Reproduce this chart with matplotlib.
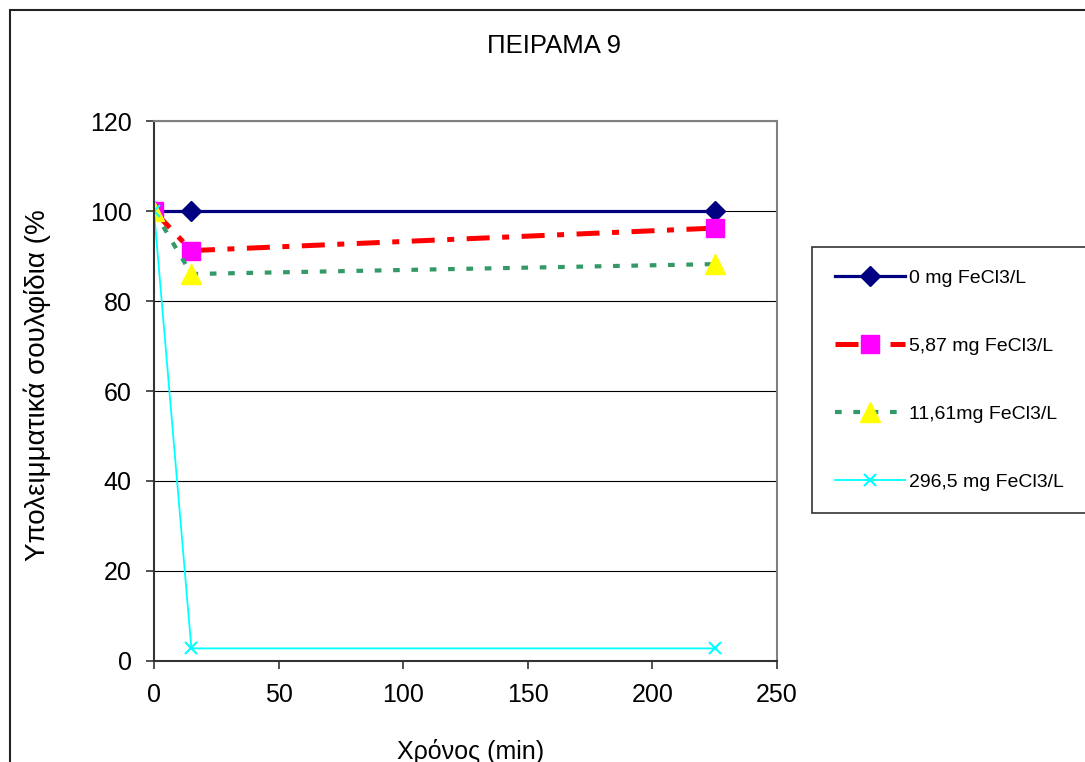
import matplotlib
matplotlib.use('Agg')
import matplotlib.pyplot as plt
from matplotlib.patches import Rectangle

plt.rcParams['font.family'] = ['Liberation Sans', 'DejaVu Sans']

# data
time_min = [0, 15, 225]
labels = ['0 mg FeCl3/L', '5,87 mg FeCl3/L', '11,61mg FeCl3/L', '296,5 mg FeCl3/L']
s_0 = [100, 100, 100]
s_587 = [100, 91.2, 96.2]
s_1161 = [100, 86.0, 88.2]
s_2965 = [100, 2.8, 2.8]

fig = plt.figure(figsize=(10.85, 7.62), dpi=100)
ax = fig.add_axes([154/1085, 101/762, 623/1085, 540/762])

ax.plot(time_min, s_0, color='#000080', lw=2.3, marker='D', ms=10,
        mfc='#000080', mec='#000080', label=labels[0])
ax.plot(time_min, s_587, color='#ff0000', lw=3.6, marker='s', ms=13,
        mfc='#ff00ff', mec='#ff00ff', dashes=(4.6, 2.5, 1.4, 2.5), label=labels[1])
ax.plot(time_min, s_1161, color='#339966', lw=3.0, marker='^', ms=14,
        mfc='#ffff00', mec='#ffff00', dashes=(1.6, 2.8), label=labels[2])
ax.plot(time_min, s_2965, color='#00ffff', lw=1.3, marker='x', ms=9,
        mew=1.5, label=labels[3])

ax.set_xlim(0, 250)
ax.set_ylim(0, 120)
ax.set_xticks(range(0, 251, 50))
ax.set_yticks(range(0, 121, 20))
ax.yaxis.grid(True, color='black', lw=0.8)
ax.set_axisbelow(True)
ax.tick_params(labelsize=18, length=6, width=1.2, color='#333333', pad=10)
for side in ['left', 'bottom']:
    ax.spines[side].set_color('#333333')
    ax.spines[side].set_linewidth(1.5)
for side in ['top', 'right']:
    ax.spines[side].set_color('#808080')
    ax.spines[side].set_linewidth(1.5)

fig.text(554/1085, 1 - 46/762, 'ΠΕΙΡΑΜΑ 9', ha='center', va='center', fontsize=18.5)
fig.text(37/1085, 1 - 385/762, 'Υπολειμματικά σουλφίδια (%', rotation=90,
         ha='center', va='center', fontsize=20)
fig.text(471/1085, 1 - 751/762, 'Χρόνος (min)', ha='center', va='center', fontsize=18)

leg = fig.legend(loc='center', bbox_to_anchor=(949/1085, 1 - 380/762),
                 frameon=True, fancybox=False, fontsize=14, handlelength=3.6,
                 labelspacing=2.6, borderpad=1.15, handletextpad=0.2,
                 borderaxespad=0, edgecolor='black')
leg.get_frame().set_linewidth(1.2)

# outer chart border (cropped at right and bottom)
fig.patches.append(Rectangle((10/1085, -0.1), 1.2, 1.1 - 10/762,
                             transform=fig.transFigure, fill=False,
                             edgecolor='#222222', lw=1.5))

fig.savefig('out.png', dpi=100)
